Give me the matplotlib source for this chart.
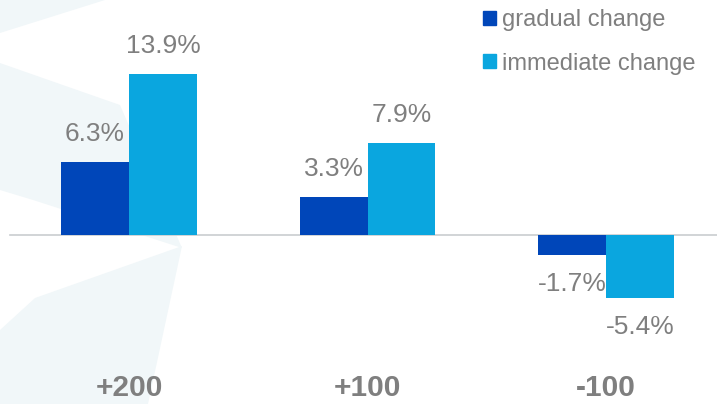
import matplotlib.pyplot as plt
from matplotlib.patches import Polygon, Patch

plt.rcParams['font.family'] = ['Liberation Sans', 'DejaVu Sans']

categories = ['+200', '+100', '-100']
gradual = [6.3, 3.3, -1.7]
immediate = [13.9, 7.9, -5.4]

c_grad = '#0046B9'
c_imm = '#0AA6DF'
grey = '#7F7F7F'

W, H = 717, 404
fig = plt.figure(figsize=(W / 100, H / 100), dpi=100)
ax = fig.add_axes([0, 0, 1, 1])

# faint background shapes (pixel outlines)
bg = '#F1F7F9'
shapes = [
    [(0, 0), (105, 0), (0, 33)],
    [(0, 63), (120, 105), (182, 248), (33, 200), (0, 190)],
    [(35, 298), (182, 246), (148, 404), (0, 404), (0, 330)],
]
for pts in shapes:
    ax.add_patch(Polygon([(px / W, 1 - py / H) for px, py in pts], closed=True,
                         transform=fig.transFigure, facecolor=bg,
                         edgecolor='none', zorder=0))

w = 0.285
x = list(range(len(categories)))
ax.bar([i - w / 2 for i in x], gradual, width=w, color=c_grad, zorder=3)
ax.bar([i + w / 2 for i in x], immediate, width=w, color=c_imm, zorder=3)

ax.axhline(0, xmin=10 / W, xmax=1, color='#C9CDD0', lw=1.2, zorder=2)

for vals, off in [(gradual, -w / 2), (immediate, w / 2)]:
    for i, v in enumerate(vals):
        ax.annotate(f'{v:.1f}%', (i + off, v), xytext=(0, 28 if v > 0 else -29),
                    textcoords='offset pixels',
                    ha='center', va='center', fontsize=19, color=grey, zorder=4)

for i, c in enumerate(categories):
    ax.text(i, -13.2, c, ha='center', va='center', fontsize=21.5,
            fontweight='bold', color=grey, zorder=4)

ax.set_xlim(-129 / 238.5, (W - 129) / 238.5)
ax.set_ylim(-(H - 235) / 11.6, 235 / 11.6)
ax.axis('off')

handles = [Patch(color=c_grad, label='gradual change'),
           Patch(color=c_imm, label='immediate change')]
fig.legend(handles=handles, loc='upper left', bbox_to_anchor=(474 / W, 1.0),
           frameon=False, fontsize=17, labelcolor=grey, handlelength=0.55,
           handleheight=0.55, handletextpad=0.25, labelspacing=0.9,
           borderaxespad=0.0)

fig.savefig('out.png', dpi=100, facecolor='white')
